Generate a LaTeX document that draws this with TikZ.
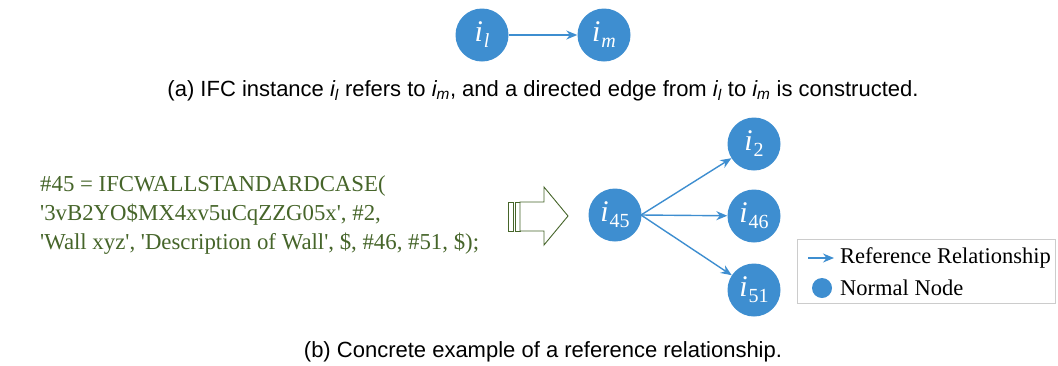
\documentclass[tikz,border=0pt]{standalone}
\usepackage{fontspec}
\setmainfont{Liberation Serif}
\newfontfamily\capfont{Liberation Sans}
\usetikzlibrary{arrows.meta}
\definecolor{nodeblue}{HTML}{3E8ED0}
\definecolor{codegreen}{HTML}{46652A}
\newcommand\sq{\textquotesingle}
\newcommand\ilab[1]{\textit{i}\kern1pt\raisebox{-6pt}{\fontsize{20}{20}\selectfont #1}}
\tikzset{
  x=1pt, y=-1pt,
  inode/.style={circle, fill=nodeblue, minimum size=53pt, inner sep=0pt, text=white, font=\fontsize{30}{30}\selectfont},
  rel/.style={draw=nodeblue, line width=1.4pt, -{Stealth[length=11pt,width=9pt]}},
  captxt/.style={font=\capfont\fontsize{22}{26}\selectfont, anchor=center},
  code/.style={font=\fontsize{22.8}{29}\selectfont, text=codegreen, align=left, anchor=west, inner sep=0pt},
  legtxt/.style={font=\fontsize{22.5}{24}\selectfont, anchor=west, inner sep=0pt},
  hollow/.style={draw=codegreen, fill=white, line width=0.9pt}
}
\begin{document}
\begin{tikzpicture}
\useasboundingbox (0,0) rectangle (1058,365);
% (a)
\node[inode] (il) at (482,35) {\ilab{\textit{l}}};
\node[inode] (im) at (604,35) {\ilab{\textit{m}}};
\draw[rel] (il) -- (im);
\node[captxt] (capa) at (543,91) {(a) IFC instance \textit{i\textsubscript{l}} refers to \textit{i\textsubscript{m}}, and a directed edge from \textit{i\textsubscript{l}} to \textit{i\textsubscript{m}} is constructed.};
% (b) code
\node[code] (code) at (40,215) {\#45 = IFCWALLSTANDARDCASE(\\\sq 3vB2YO\$MX4xv5uCqZZG05x\sq, \#2,\\\sq Wall xyz\sq, \sq Description of Wall\sq, \$, \#46, \#51, \$);};
% hollow arrow
\draw[hollow] (508,202) rectangle (513,231);
\draw[hollow] (515,202) rectangle (520,231);
\draw[hollow] (520,202) -- (544,202) -- (544,187) -- (568,216) -- (544,245) -- (544,231) -- (520,231) -- cycle;
% graph
\node[inode] (i45) at (615,215) {\ilab{45}};
\node[inode] (i2) at (754,144) {\ilab{2}};
\node[inode] (i46) at (754,216) {\ilab{46}};
\node[inode] (i51) at (754,290) {\ilab{51}};
\coordinate (src) at (641,215);
\draw[rel] (src) -- (i2);
\draw[rel] (src) -- (i46);
\draw[rel] (src) -- (i51);
% legend
\node[draw=black!20, line width=0.8pt, minimum width=258pt, minimum height=64pt, inner sep=0pt] (leg) at (926,271.5) {};
\coordinate (la1) at (808,258);
\coordinate (la2) at (834,258);
\draw[rel, line width=1.2pt] (la1) -- (la2);
\node[legtxt] (lt1) at (840,258) {Reference Relationship};
\node[circle, fill=nodeblue, minimum size=20pt, inner sep=0pt] (lc) at (822,288) {};
\node[legtxt] (lt2) at (840,288) {Normal Node};
\node[captxt] (capb) at (543,352) {(b) Concrete example of a reference relationship.};
\end{tikzpicture}
\end{document}
